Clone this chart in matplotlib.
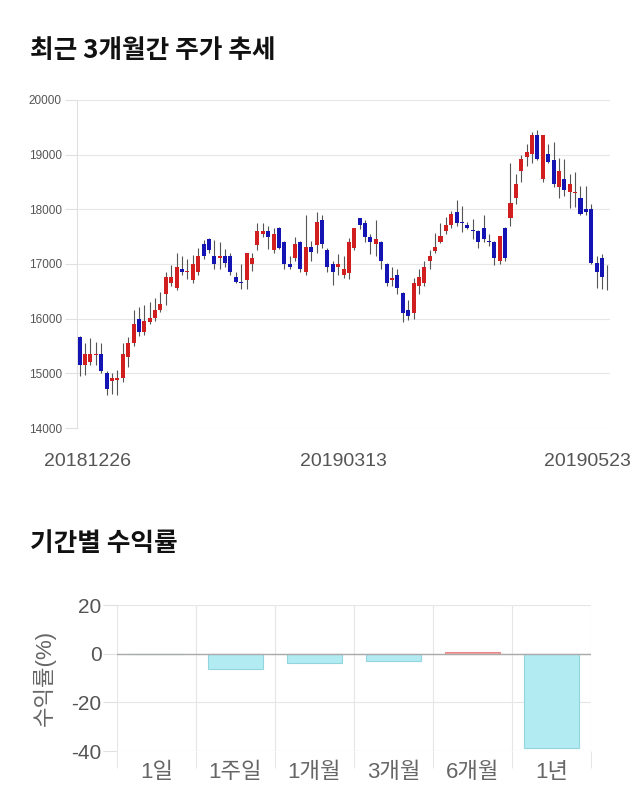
import matplotlib
matplotlib.use('Agg')
from matplotlib import pyplot as plt
from matplotlib import transforms

plt.rcParams['axes.unicode_minus'] = False

# 최근 3개월 일봉 (시가, 고가, 저가, 종가)
opens = [15660, 15150, 15210, 15340, 15350, 15010, 14860, 14870, 14910, 15300,
         15560, 16000, 15760, 15940, 16010, 16160, 16450, 16650, 16560, 16910,
         16850, 16700, 16860, 17370, 17460, 17150, 17110, 17150, 17150, 16760,
         16670, 16710, 17000, 17350, 17550, 17600, 17260, 17660, 17400, 17000,
         17110, 17400, 16860, 17310, 17350, 17800, 17260, 17000, 16950, 16800,
         16840, 17290, 17840, 17750, 17500, 17370, 17400, 17000, 16700, 16800,
         16470, 16160, 16100, 16600, 16650, 17060, 17240, 17400, 17600, 17710,
         17950, 17760, 17710, 17610, 17600, 17660, 17410, 17400, 17060, 17660,
         17840, 18200, 18700, 18950, 19010, 19360, 18550, 19010, 18900, 18400,
         18550, 18320, 18300, 18210, 18000, 18000, 17020, 17110, 16710]
highs = [15680, 15560, 15650, 15580, 15560, 15050, 15010, 15060, 15560, 15660,
         16160, 16220, 16250, 16300, 16380, 16490, 16860, 16980, 17200, 17150,
         17100, 17170, 17300, 17440, 17480, 17440, 17400, 17280, 17200, 16860,
         17000, 17200, 17200, 17750, 17750, 17700, 17650, 17680, 17420, 17150,
         17500, 17420, 17900, 17420, 17950, 17900, 17300, 17050, 17180, 17150,
         17480, 17660, 17850, 17800, 17550, 17800, 17420, 17010, 16950, 16900,
         16480, 16350, 16750, 16900, 17050, 17250, 17560, 17750, 17860, 17960,
         18170, 18060, 17770, 17820, 17620, 17890, 17550, 17420, 17510, 17680,
         18850, 18650, 19000, 19200, 19410, 19450, 19360, 19200, 19230, 18940,
         18920, 18640, 18680, 18420, 18420, 18100, 17150, 17180, 16980]
lows = [14950, 14970, 15150, 15160, 15000, 14600, 14620, 14600, 14850, 15120,
        15500, 15680, 15700, 15900, 15960, 16120, 16250, 16600, 16520, 16800,
        16720, 16650, 16800, 17100, 17200, 16900, 16900, 16950, 16800, 16650,
        16550, 16550, 16880, 17250, 17500, 17280, 17200, 17280, 16900, 16900,
        17050, 16850, 16800, 17050, 17200, 17300, 16850, 16620, 16800, 16750,
        16720, 17250, 17640, 17400, 17180, 17150, 16900, 16600, 16600, 16450,
        15940, 15980, 16000, 16450, 16600, 16900, 17200, 17380, 17540, 17650,
        17700, 17590, 17640, 17450, 17300, 17400, 17330, 16980, 17000, 17050,
        17700, 18100, 18500, 18800, 18850, 18900, 18500, 18850, 18400, 18200,
        18250, 18020, 18050, 17900, 17900, 17000, 16560, 16550, 16530]
closes = [15150, 15350, 15350, 15360, 15040, 14720, 14910, 14920, 15350, 15560,
          15900, 15760, 15960, 16010, 16160, 16270, 16760, 16760, 16940, 16860,
          16870, 17000, 17150, 17150, 17260, 17000, 17150, 17020, 16860, 16670,
          16650, 17200, 17110, 17600, 17600, 17500, 17550, 17290, 17000, 16950,
          17370, 16900, 17310, 17220, 17770, 17370, 16950, 16860, 17000, 16900,
          17400, 17660, 17710, 17500, 17400, 17460, 17050, 16650, 16740, 16560,
          16100, 16050, 16650, 16760, 16950, 17150, 17310, 17510, 17710, 17920,
          17750, 17750, 17660, 17600, 17400, 17460, 17400, 17110, 17510, 17110,
          18110, 18460, 18920, 19050, 19360, 18920, 19360, 18860, 18460, 18700,
          18350, 18460, 18310, 17920, 17950, 17020, 16860, 16760, 16700]
date_labels = ['20181226', '20190313', '20190523']
date_index = [0, 49, 98]

# 기간별 수익률
periods = ['1일', '1주일', '1개월', '3개월', '6개월', '1년']
returns = [0.0, -6.1, -3.9, -2.8, 0.9, -38.6]

kr = ['Liberation Sans', 'Noto Sans CJK KR']

fig = plt.figure(figsize=(6.4, 8.1), dpi=100)

fig.text(0.047, 0.938, '최근 3개월간 주가 추세', fontsize=18.5, fontweight='bold',
         family='Noto Sans CJK KR', va='center', ha='left', color='#111111')
fig.text(0.047, 0.3296, '기간별 수익률', fontsize=18.5, fontweight='bold',
         family='Noto Sans CJK KR', va='center', ha='left', color='#111111')

#candle chart
ax = fig.add_axes([0.1203, 0.4716, 0.833, 0.405])
n = len(opens)
xs = list(range(n))
for i in xs:
    o, h, l, c = opens[i], highs[i], lows[i], closes[i]
    col = '#d11f1f' if c >= o else '#1414b4'
    ax.vlines(i, l, h, color='#555555', linewidth=0.8, zorder=2)
    body = max(abs(c - o), 15)
    ax.bar(i, body, bottom=min(o, c), width=0.75, color=col, zorder=3,
           linewidth=0)

ax.set_xlim(-0.5, n - 0.5)
ax.set_ylim(14000, 20000)
ax.set_yticks(range(14000, 20001, 1000))
ax.grid(axis='y', color='#e6e6e6', linewidth=0.8)
for s in ['top', 'right', 'bottom']:
    ax.spines[s].set_visible(False)
ax.spines['left'].set_color('#e0e0e0')
ax.tick_params(axis='y', length=9, color='#e0e0e0', labelsize=8.5,
               labelcolor='#555555', pad=2)
for lab in ax.get_yticklabels():
    lab.set_family('Liberation Sans')
ax.set_xticks(date_index)
ax.set_xticklabels(date_labels, fontsize=14, color='#555555',
                   family='Liberation Sans')
ax.tick_params(axis='x', length=0, pad=18)
shifts = [8, 0, -20]
for lab, dx in zip(ax.get_xticklabels(), shifts):
    lab.set_transform(lab.get_transform() +
                      transforms.ScaledTranslation(dx / 100, 0, fig.dpi_scale_trans))

#returns bar chart
ax2 = fig.add_axes([0.1828, 0.0728, 0.7406, 0.1802])
pos = list(range(len(periods)))
colors = ['#f4a3a3' if r > 0 else '#b3ebf2' for r in returns]
edges = ['#e88a8a' if r > 0 else '#93d5df' for r in returns]
ax2.bar(pos, returns, width=0.7, color=colors, edgecolor=edges, linewidth=0.8,
        zorder=3)
ax2.axhline(0, color='#aaaaaa', linewidth=1, zorder=4)
ax2.set_xlim(-0.5, len(periods) - 0.5)
ax2.set_ylim(-40, 20)
ax2.set_yticks([-40, -20, 0, 20])
ax2.set_xticks(pos)
ax2.set_xticklabels(periods, fontsize=16, color='#666666', family=kr)
ax2.set_xticks([p - 0.5 for p in pos] + [len(periods) - 0.5], minor=True)
ax2.tick_params(axis='x', which='major', length=0, pad=8)
ax2.tick_params(axis='x', which='minor', length=12, color='#e0e0e0')
ax2.tick_params(axis='y', length=10, color='#e0e0e0', labelsize=15,
                labelcolor='#555555', pad=1)
for lab in ax2.get_yticklabels():
    lab.set_family('Liberation Sans')
ax2.grid(axis='y', color='#e6e6e6', linewidth=0.8)
ax2.grid(axis='x', which='minor', color='#e6e6e6', linewidth=0.8)
for s in ['top', 'right', 'left', 'bottom']:
    ax2.spines[s].set_visible(False)
ax2.set_ylabel('수익률(%)', fontsize=16, color='#666666', family=kr, labelpad=11)

fig.savefig('out.png', dpi=100)
